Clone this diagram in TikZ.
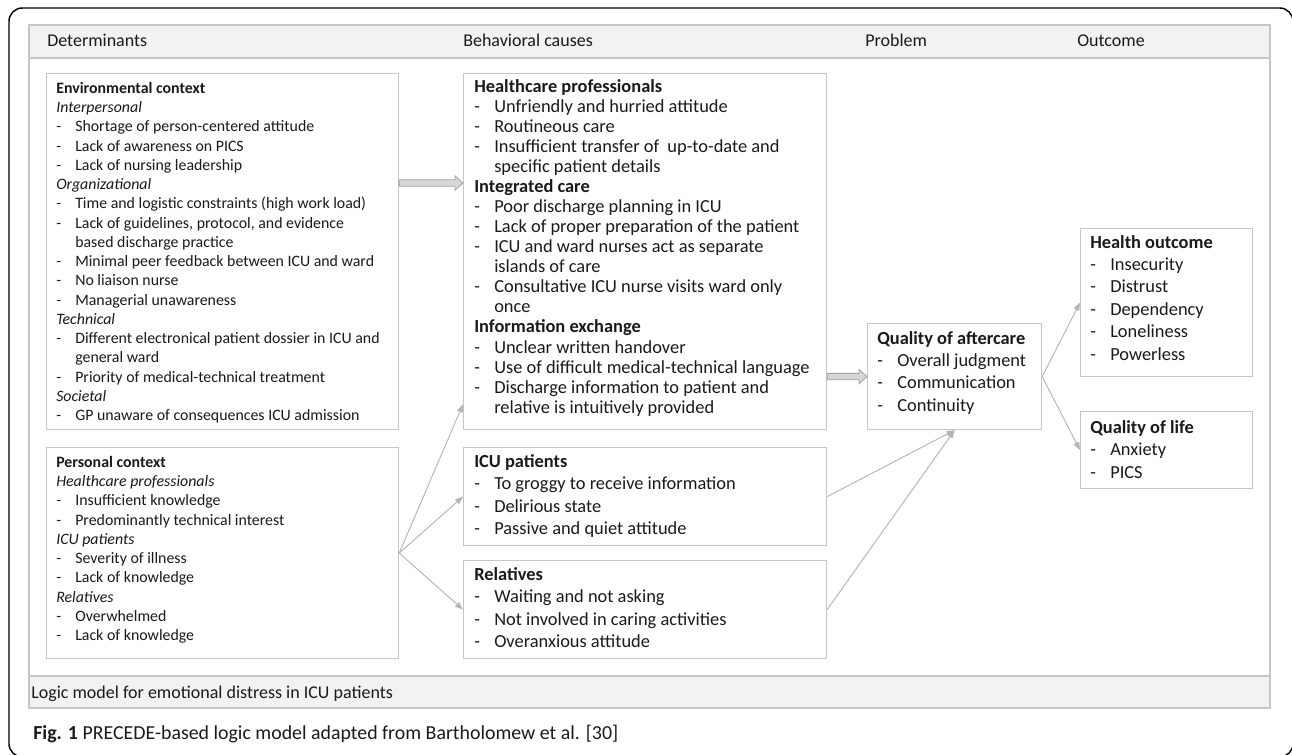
\documentclass[tikz,border=0pt]{standalone}
\usepackage{fontspec}
\setmainfont{Carlito}
\usetikzlibrary{calc,arrows.meta}
\definecolor{boxgray}{HTML}{C6C6C6}
\definecolor{bandgray}{HTML}{F2F2F2}
\definecolor{arrgray}{HTML}{B5B5B5}
\definecolor{blkfill}{HTML}{D6D6D6}
\definecolor{blkdraw}{HTML}{A3A3A3}
\definecolor{txtc}{HTML}{1A1A1A}
\newcommand\dL{\makebox[14.25pt][l]{-}}
\newcommand\cL{\hspace*{14.25pt}}
\newcommand\dR{\makebox[15pt][l]{-}}
\newcommand\cR{\hspace*{15pt}}
\newcommand\blockarrowpath[2]{\path[blockst] let \p1=(#1), \p2=(#2) in
  (\x1,\y1+2.4pt) -- (\x2-6pt,\y1+2.4pt) -- (\x2-6pt,\y1+5.4pt) -- (\x2,\y1)
  -- (\x2-6pt,\y1-5.4pt) -- (\x2-6pt,\y1-2.4pt) -- (\x1,\y1-2.4pt) -- cycle;}
\begin{document}
\begin{tikzpicture}[x=0.75pt,y=-0.75pt,
  boxst/.style={draw=boxgray, line width=0.9pt, fill=white, inner sep=0pt, anchor=north west},
  txtL/.style={inner sep=0pt, anchor=base west, align=left, text=txtc, font=\fontsize{11.9}{14.44}\selectfont},
  txtH/.style={inner sep=0pt, anchor=base west, align=left, text=txtc, font=\fontsize{13.8}{15.05}\selectfont},
  txtR/.style={inner sep=0pt, anchor=base west, align=left, text=txtc, font=\fontsize{13.8}{16.8}\selectfont},
  hdr/.style={inner sep=0pt, anchor=base west, text=txtc, font=\fontsize{13.5}{16}\selectfont},
  capst/.style={inner sep=0pt, anchor=base west, text=txtc, font=\fontsize{14.9}{18}\selectfont},
  thinarr/.style={draw=arrgray, line width=0.7pt, -{Triangle[length=6pt,width=4.5pt]}},
  blockst/.style={draw=blkdraw, fill=blkfill, line width=0.6pt, line join=miter}
]
\useasboundingbox (0,0) rectangle (1292,755);
% outer frame
\draw[line width=1.1pt, rounded corners=10pt] (9,8) rectangle (1293,757);
% panel
\draw[draw=boxgray, line width=0.9pt, fill=white] (29,58) rectangle (1270,676);
\draw[draw=boxgray, line width=0.9pt, fill=bandgray] (29,25) rectangle (1270,58);
\draw[draw=boxgray, line width=0.9pt, fill=bandgray] (29,676) rectangle (1270,708);
% header labels
\node[hdr] (hDet) at (47,47) {Determinants};
\node[hdr] (hBeh) at (463,47) {Behavioral causes};
\node[hdr] (hProb) at (865,47) {Problem};
\node[hdr] (hOut) at (1077,47) {Outcome};
\node[hdr] (fLog) at (31,698) {Logic model for emotional distress in ICU patients};
\node[capst] (cap) at (33,739) {\textbf{Fig. 1} PRECEDE-based logic model adapted from Bartholomew et al. [30]};
% boxes
\node[boxst, minimum width=352*0.75pt, minimum height=356*0.75pt] (env) at (46,73) {};
\node[boxst, minimum width=352*0.75pt, minimum height=211*0.75pt] (pers) at (46,447) {};
\node[boxst, minimum width=363*0.75pt, minimum height=356*0.75pt] (hp) at (463,73) {};
\node[boxst, minimum width=363*0.75pt, minimum height=98*0.75pt] (icu) at (463,447) {};
\node[boxst, minimum width=363*0.75pt, minimum height=98*0.75pt] (rel) at (463,560) {};
\node[boxst, minimum width=174*0.75pt, minimum height=106*0.75pt] (qa) at (867,323) {};
\node[boxst, minimum width=172*0.75pt, minimum height=148*0.75pt] (ho) at (1080,228) {};
\node[boxst, minimum width=172*0.75pt, minimum height=77*0.75pt] (qol) at (1080,411) {};
% box texts (anchored at the baseline of their last line)
\node[txtL] (envT) at (56,420.75) {\textbf{Environmental context}\\
\textit{Interpersonal}\\
\dL Shortage of person-centered attitude\\
\dL Lack of awareness on PICS\\
\dL Lack of nursing leadership\\
\textit{Organizational}\\
\dL Time and logistic constraints (high work load)\\
\dL Lack of guidelines, protocol, and evidence\\
\cL based discharge practice\\
\dL Minimal peer feedback between ICU and ward\\
\dL No liaison nurse\\
\dL Managerial unawareness\\
\textit{Technical}\\
\dL Different electronical patient dossier in ICU and\\
\cL general ward\\
\dL Priority of medical-technical treatment\\
\textit{Societal}\\
\dL GP unaware of consequences ICU admission};
\node[txtL] (persT) at (56,640.75) {\textbf{Personal context}\\
\textit{Healthcare professionals}\\
\dL Insufficient knowledge\\
\dL Predominantly technical interest\\
\textit{ICU patients}\\
\dL Severity of illness\\
\dL Lack of knowledge\\
\textit{Relatives}\\
\dL Overwhelmed\\
\dL Lack of knowledge};
\node[txtH] (hpT) at (474,413.2) {\textbf{Healthcare professionals}\\
\dR Unfriendly and hurried attitude\\
\dR Routineous care\\
\dR Insufficient transfer of\ \ up-to-date and\\
\cR specific patient details\\
\textbf{Integrated care}\\
\dR Poor discharge planning in ICU\\
\dR Lack of proper preparation of the patient\\
\dR ICU and ward nurses act as separate\\
\cR islands of care\\
\dR Consultative ICU nurse visits ward only\\
\cR once\\
\textbf{Information exchange}\\
\dR Unclear written handover\\
\dR Use of difficult medical-technical language\\
\dR Discharge information to patient and\\
\cR relative is intuitively provided};
\node[txtR] (icuT) at (474,534.4) {\textbf{ICU patients}\\
\dR To groggy to receive information\\
\dR Delirious state\\
\dR Passive and quiet attitude};
\node[txtR] (relT) at (474,647.4) {\textbf{Relatives}\\
\dR Waiting and not asking\\
\dR Not involved in caring activities\\
\dR Overanxious attitude};
\node[txtR] (qaT) at (877,411.4) {\textbf{Quality of aftercare}\\
\dR Overall judgment\\
\dR Communication\\
\dR Continuity};
\node[txtR] (hoT) at (1090,360.2) {\textbf{Health outcome}\\
\dR Insecurity\\
\dR Distrust\\
\dR Dependency\\
\dR Loneliness\\
\dR Powerless};
\node[txtR] (qolT) at (1090,478) {\textbf{Quality of life}\\
\dR Anxiety\\
\dR PICS};
% block arrows
\coordinate (b1s) at ($(env.north east)+(0,110)$);
\coordinate (b1e) at ($(hp.north west)+(0,110)$);
\blockarrowpath{b1s}{b1e}
\coordinate (b2s) at (hp.east |- qa.west);
\blockarrowpath{b2s}{qa.west}
% thin arrows
\coordinate (hpIn) at ($(hp.south west)+(0,-26)$);
\draw[thinarr] (pers.east) -- (hpIn);
\draw[thinarr] (pers.east) -- (icu.west);
\draw[thinarr] (pers.east) -- (rel.west);
\draw[thinarr] (icu.east) -- (qa.south);
\draw[thinarr] (rel.east) -- (qa.south);
\draw[thinarr] (qa.east) -- (ho.west);
\draw[thinarr] (qa.east) -- (qol.west);
\end{tikzpicture}
\end{document}
